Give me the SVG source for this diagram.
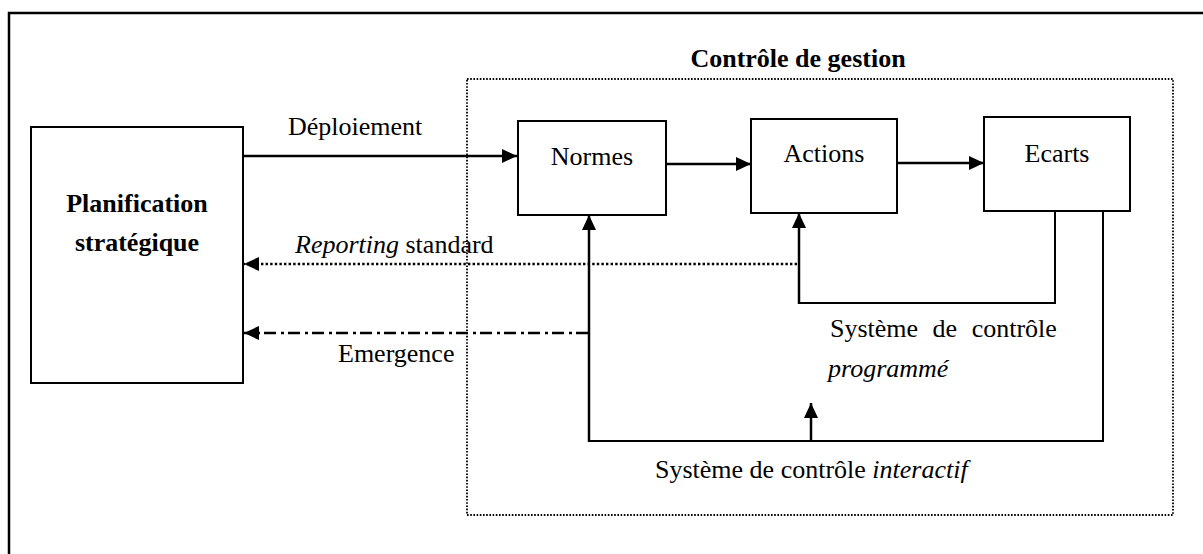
<svg xmlns="http://www.w3.org/2000/svg" width="1203" height="554" viewBox="0 0 1203 554">
<style>
text{font-family:"Liberation Serif","Times New Roman",serif;font-size:26px;fill:#000}
.b{font-weight:bold}
.box{fill:#fff;stroke:#000;stroke-width:2}
.ln{fill:none;stroke:#000;stroke-width:2.5}
.thin{fill:none;stroke:#000;stroke-width:2}
</style>
<defs>
<marker id="ah" viewBox="0 0 15 14" refX="15" refY="7" markerWidth="15" markerHeight="14" markerUnits="userSpaceOnUse" orient="auto">
<path d="M0,0 L15,7 L0,14 Z" fill="#000"/>
</marker>
</defs>
<rect x="9" y="13" width="1210" height="560" fill="none" stroke="#000" stroke-width="2.5"/>
<g id="controle-de-gestion">
<rect x="467" y="79" width="706" height="436" fill="none" stroke="#000" stroke-width="1.8" stroke-dasharray="1.6,1.6"/>
<text class="b" x="798" y="67" text-anchor="middle">Contrôle de gestion</text>
</g>
<g id="connectors">
<line class="ln" x1="243" y1="156" x2="517" y2="156" marker-end="url(#ah)"/>
<line class="ln" x1="666" y1="164" x2="751" y2="164" marker-end="url(#ah)"/>
<line class="ln" x1="897" y1="163" x2="984" y2="163" marker-end="url(#ah)"/>
<line fill="none" stroke="#000" stroke-width="2.6" stroke-dasharray="2.4,2.2" x1="797" y1="264" x2="244" y2="264" marker-end="url(#ah)"/>
<line fill="none" stroke="#000" stroke-width="2.5" stroke-dasharray="12,4,3,5" x1="588" y1="333" x2="244" y2="333" marker-end="url(#ah)"/>
<polyline class="thin" points="1055,211 1055,303 799,303"/>
<line class="ln" x1="799" y1="304" x2="799" y2="213" marker-end="url(#ah)"/>
<polyline class="thin" points="1103,211 1103,441 588,441"/>
<line class="ln" x1="589" y1="442" x2="589" y2="215" marker-end="url(#ah)"/>
<line class="ln" x1="811" y1="441" x2="811" y2="403" marker-end="url(#ah)"/>
<text x="288" y="135">Déploiement</text>
<text x="295" y="253"><tspan font-style="italic">Reporting</tspan> standard</text>
<text x="338" y="362">Emergence</text>
<text x="830" y="337" word-spacing="8">Système de contrôle</text>
<text x="828" y="377" font-style="italic">programmé</text>
<text x="655" y="478">Système de contrôle <tspan font-style="italic">interactif</tspan></text>
</g>
<g id="planification">
<rect class="box" x="31" y="127" width="212" height="256"/>
<text class="b" x="137" y="212" text-anchor="middle">Planification</text>
<text class="b" x="137" y="251" text-anchor="middle">stratégique</text>
</g>
<g id="normes">
<rect class="box" x="518" y="121" width="148" height="94"/>
<text x="592" y="165" text-anchor="middle">Normes</text>
</g>
<g id="actions">
<rect class="box" x="751" y="119" width="146" height="94"/>
<text x="824" y="162" text-anchor="middle">Actions</text>
</g>
<g id="ecarts">
<rect class="box" x="984" y="117" width="146" height="94"/>
<text x="1057" y="162" text-anchor="middle">Ecarts</text>
</g>
</svg>
